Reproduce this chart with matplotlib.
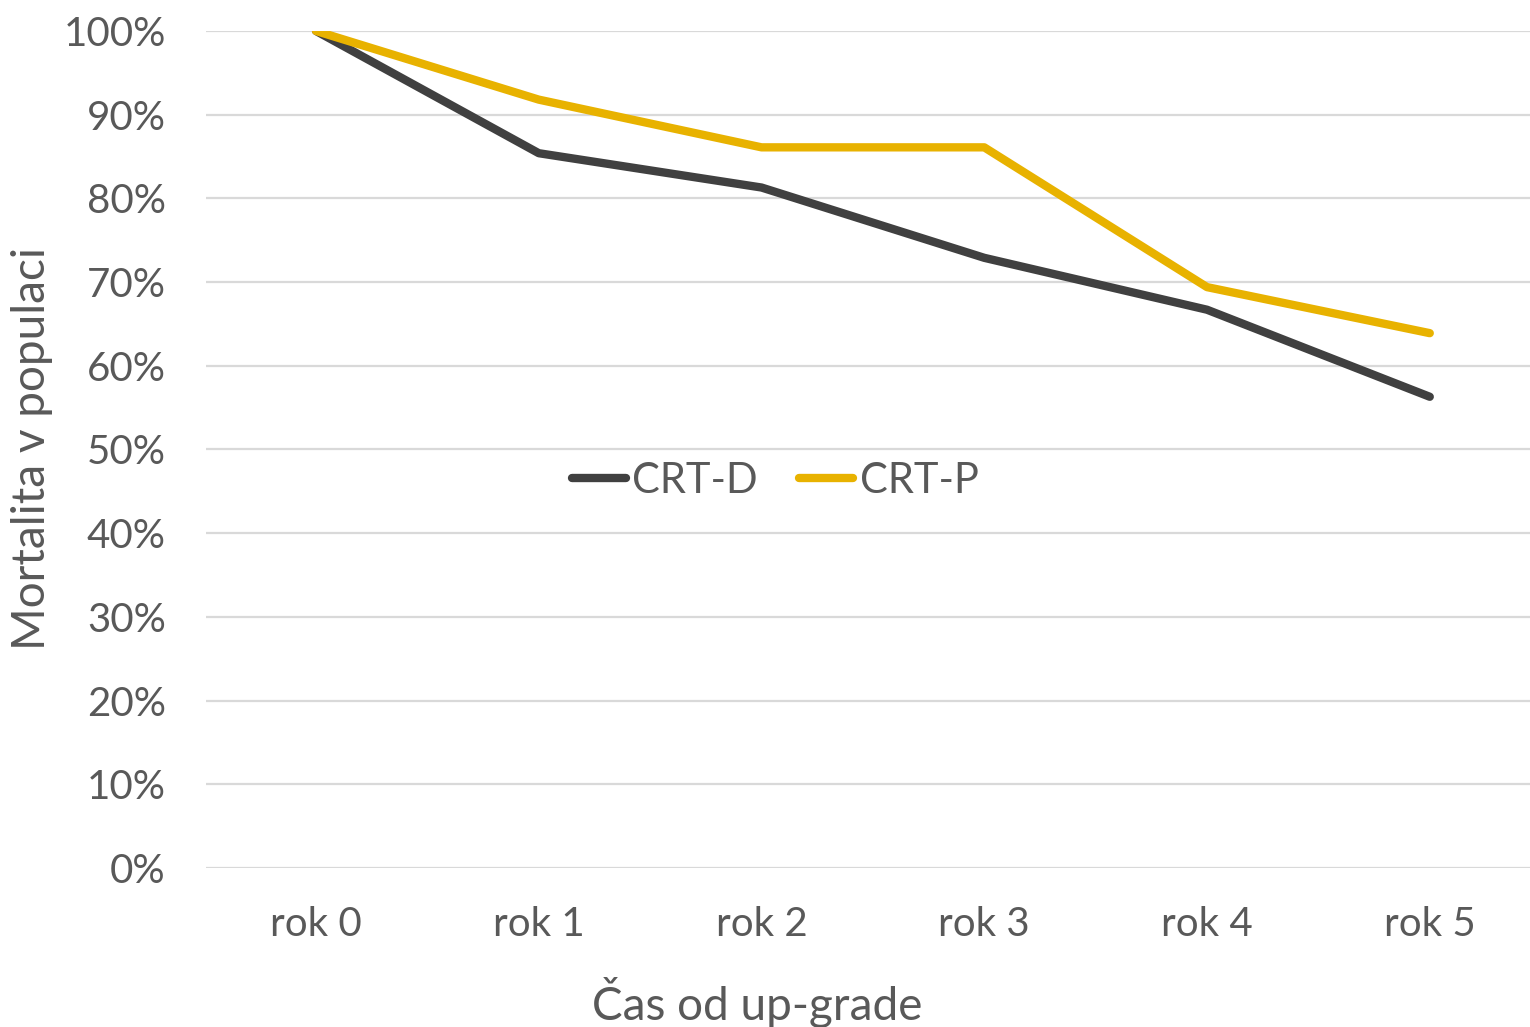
import matplotlib
matplotlib.use("Agg")
import matplotlib.pyplot as plt
from matplotlib.ticker import PercentFormatter

categories = ["rok 0", "rok 1", "rok 2", "rok 3", "rok 4", "rok 5"]
crt_d = [100.0, 85.4, 81.3, 72.9, 66.7, 56.3]
crt_p = [100.0, 91.8, 86.1, 86.1, 69.4, 63.9]
yticks = [0, 10, 20, 30, 40, 50, 60, 70, 80, 90, 100]

plt.rcParams['font.family'] = ['Lato', 'DejaVu Sans']
txt = '#595959'

fig = plt.figure(figsize=(15.3, 10.27), dpi=100)
ax = fig.add_axes([206/1530, 1-868/1027, 1-206/1530, (868-31)/1027])

x = list(range(len(categories)))
ax.plot(x, crt_d, color='#404040', lw=6, solid_capstyle='round', solid_joinstyle='round', label='CRT-D', zorder=3)
ax.plot(x, crt_p, color='#E8B200', lw=6, solid_capstyle='round', solid_joinstyle='round', label='CRT-P', zorder=3)

ax.set_ylim(0, 100)
ax.set_xlim(-0.494, 5.45)
ax.set_yticks(yticks)
ax.yaxis.set_major_formatter(PercentFormatter(decimals=0))
ax.set_xticks(x)
ax.set_xticklabels(categories)
ax.grid(axis='y', color='#D9D9D9', lw=1.6)
ax.set_axisbelow(True)
for s in ax.spines.values():
    s.set_visible(False)
ax.tick_params(length=0, labelsize=29, colors=txt)
ax.tick_params(axis='y', pad=29)
ax.tick_params(axis='x', pad=27)

fig.text(32/1530, 1-449/1027, 'Mortalita v populaci', rotation=90, fontsize=33,
         color=txt, ha='center', va='center')
fig.text(757/1530, 1-1002/1027, 'Čas od up-grade', fontsize=33,
         color=txt, ha='center', va='center')

leg = ax.legend(loc='center', ncol=2, frameon=False, fontsize=30, handlelength=1.3,
                handletextpad=0.15, columnspacing=1.0,
                bbox_to_anchor=((775-206)/(1530-206), (868-481)/837), bbox_transform=ax.transAxes)
for t in leg.get_texts():
    t.set_color(txt)

fig.savefig('out.png', dpi=100, facecolor='white')
